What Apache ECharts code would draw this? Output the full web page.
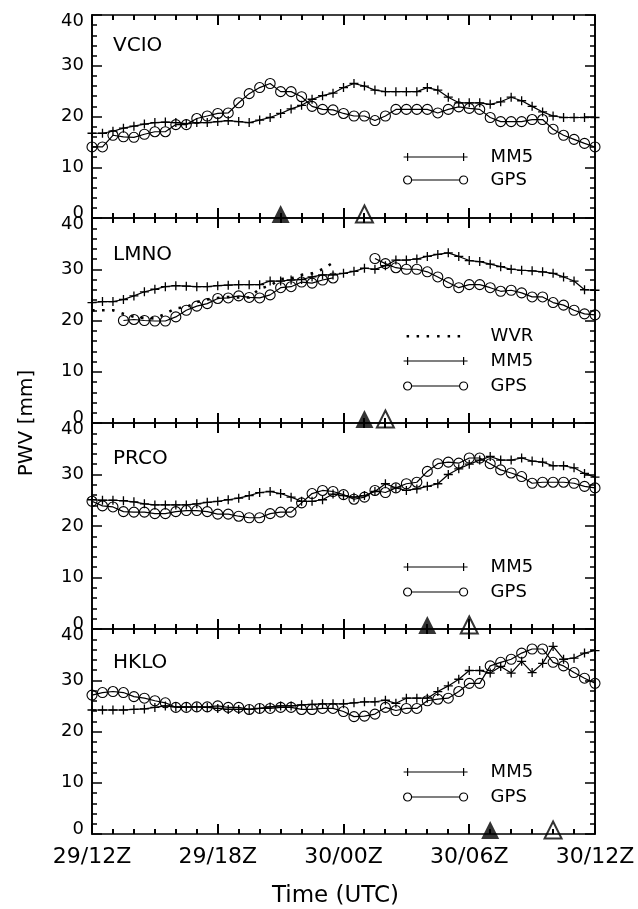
<!DOCTYPE html>
<html>
<head>
<meta charset="utf-8">
<script src="https://cdn.jsdelivr.net/npm/echarts@6/dist/echarts.min.js"></script>
<style>
html,body{margin:0;padding:0;background:#fff;}
#chart{width:638px;height:909px;}
</style>
</head>
<body>
<div id="chart"></div>
<script>
// ---- data (hours after 29/12Z, half-hourly) ----
const hours = [0,0.5,1,1.5,2,2.5,3,3.5,4,4.5,5,5.5,6,6.5,7,7.5,8,8.5,9,9.5,10,10.5,11,11.5,12,
  12.5,13,13.5,14,14.5,15,15.5,16,16.5,17,17.5,18,18.5,19,19.5,20,20.5,21,21.5,22,22.5,23,23.5,24];
const xTickLabels = ['29/12Z','29/18Z','30/00Z','30/06Z','30/12Z'];
const stations = ['VCIO','LMNO','PRCO','HKLO'];

const vcioMM5 = [16.7,16.7,17.1,17.7,18.1,18.5,18.8,18.9,18.8,18.6,18.8,18.8,19.0,19.2,19.0,18.8,19.3,19.8,20.6,21.5,22.2,23.4,24.1,24.6,
  25.7,26.5,26.0,25.2,24.9,24.9,24.9,24.9,25.7,25.2,23.8,22.7,22.7,22.7,22.4,22.9,23.8,23.1,22.0,20.9,20.1,19.8,19.8,19.8,19.8];
const vcioGPS = [14.0,14.0,16.3,16.0,15.9,16.5,17.0,17.0,18.4,18.4,19.6,20.1,20.6,20.7,22.7,24.5,25.7,26.5,24.9,24.9,23.9,22.0,21.4,21.3,
  20.6,20.1,20.1,19.2,20.1,21.4,21.4,21.4,21.4,20.7,21.4,21.9,21.6,21.4,19.8,19.0,19.0,19.0,19.4,19.4,17.5,16.3,15.5,14.7,14.0];

const lmnoMM5 = [23.5,23.7,23.7,24.1,24.8,25.6,26.1,26.6,26.8,26.7,26.6,26.6,26.8,26.9,27.0,27.0,27.0,27.7,27.7,27.9,28.0,28.5,28.9,28.9,
  29.2,29.6,30.2,30.0,30.7,31.8,31.8,32.0,32.5,32.9,33.2,32.5,31.7,31.5,31.0,30.5,30.0,29.8,29.7,29.5,29.2,28.5,27.7,26.0,25.9];
const lmnoGPS = [null,null,null,20.0,20.2,20.0,19.9,19.9,20.7,22.0,22.8,23.3,24.3,24.4,24.8,24.5,24.4,25.0,26.4,26.6,27.5,27.3,27.9,28.3,
  null,null,null,32.1,31.1,30.3,30.0,30.0,29.5,28.5,27.4,26.4,27.0,27.0,26.4,25.7,25.9,25.4,24.6,24.6,23.5,23.0,22.0,21.3,21.1];
const lmnoWVR = [22.0,22.0,22.0,21.3,20.7,20.5,20.4,21.3,22.4,22.6,23.6,24.1,24.4,24.6,24.5,24.5,26.2,26.8,28.1,28.2,28.9,29.2,30.0,31.3,
  null,null,null,null,null,null,null,null,null,null,null,null,null,null,null,null,null,null,null,null,null,null,null,null,null];

const prcoMM5 = [25.1,25.0,25.0,24.9,24.7,24.3,24.1,24.1,24.1,24.1,24.3,24.6,24.8,25.1,25.4,25.9,26.5,26.7,26.3,25.6,24.8,24.8,25.1,26.2,
  25.9,25.6,25.9,26.7,28.2,27.4,26.9,27.2,27.7,28.2,30.0,31.1,32.0,32.8,33.5,32.8,32.8,33.2,32.6,32.4,31.7,31.7,31.3,30.2,29.5];
const prcoGPS = [24.8,23.9,23.7,22.8,22.7,22.7,22.4,22.4,22.8,23.0,23.0,22.8,22.3,22.3,21.9,21.6,21.6,22.4,22.7,22.7,24.5,26.3,26.9,26.7,
  26.1,25.2,25.6,26.9,26.5,27.4,28.2,28.5,30.6,32.1,32.4,32.2,33.2,33.2,32.1,30.9,30.3,29.6,28.3,28.5,28.5,28.5,28.3,27.7,27.4];

const hkloMM5 = [24.2,24.2,24.2,24.2,24.3,24.4,24.7,25.0,24.8,24.8,24.8,24.7,24.5,24.3,24.3,24.3,24.5,24.8,25.0,25.0,25.2,25.3,25.4,25.4,
  25.4,25.6,25.8,25.8,26.1,25.5,26.5,26.5,26.5,27.8,28.9,30.2,31.9,31.9,31.4,32.7,31.4,33.7,31.5,33.3,36.6,34.1,34.3,35.3,35.8];
const hkloGPS = [27.1,27.6,27.8,27.6,26.8,26.5,26.0,25.6,24.7,24.7,24.8,24.8,25.0,24.7,24.7,24.3,24.5,24.5,24.7,24.7,24.3,24.3,24.5,24.5,
  23.9,22.9,23.0,23.4,24.7,24.1,24.5,24.5,26.0,26.3,26.5,27.8,29.4,29.4,32.8,33.5,34.1,35.3,36.1,36.1,33.5,32.8,31.5,30.4,29.4];

// triangle markers (hours after 29/12Z)
const filledMarkers = [9, 13, 16, 19];
const openMarkers = [13, 14, 18, 22];

// ---- layout / style ----
const FONT = 'DejaVu Sans';
const grids = [
  {top: 15, height: 203},
  {top: 218, height: 205},
  {top: 423, height: 206},
  {top: 629, height: 205}
];
const legendTops = [148, 327, 558, 763];
const legendGaps = [5, 7, 7, 7];
const titleTops = [36, 245, 449, 653];

const plusSym = 'path://M0,5L10,5M5,0L5,10';
const iconMM5 = 'path://M0,0M64,10M0,5L64,5M4,1L4,9M60,1L60,9';
const iconGPS = 'path://M0,0M64,10M8,5A4,4,0,1,1,0,5A4,4,0,1,1,8,5M64,5A4,4,0,1,1,56,5A4,4,0,1,1,64,5M8,5L56,5';
const iconWVR = 'path://M0,0M64,10M3,4L5.5,4L5.5,6.5L3,6.5ZM13,4L15.5,4L15.5,6.5L13,6.5ZM23,4L25.5,4L25.5,6.5L23,6.5ZM33.5,4L36,4L36,6.5L33.5,6.5ZM44,4L46.5,4L46.5,6.5L44,6.5ZM54,4L56.5,4L56.5,6.5L54,6.5Z';

function axisLine() { return {show: true, onZero: false, lineStyle: {color: '#000', width: 1.6}}; }
function tick(len) { return {show: true, inside: true, length: len, lineStyle: {color: '#000', width: 1.5}}; }

const seriesData = [
  {mm5: vcioMM5, gps: vcioGPS},
  {mm5: lmnoMM5, gps: lmnoGPS, wvr: lmnoWVR},
  {mm5: prcoMM5, gps: prcoGPS},
  {mm5: hkloMM5, gps: hkloGPS}
];
const pair = arr => hours.map((h, i) => [h, arr[i]]);

const pwvText = {
  type: 'text', x: 27, y: 423, rotation: Math.PI / 2,
  style: {text: 'PWV [mm]', fontSize: 20, fontFamily: FONT, fill: '#000', align: 'center', verticalAlign: 'middle'}
};

const option = {
  animation: false,
  backgroundColor: '#fff',
  grid: grids.map(g => ({left: 92, right: 43, top: g.top, height: g.height})),
  title: stations.map((s, i) => ({
    text: s, left: 113, top: titleTops[i], padding: 0,
    textStyle: {fontSize: 20, fontWeight: 'normal', fontFamily: FONT, color: '#000'}
  })),
  xAxis: [], yAxis: [], legend: [], series: [],
  graphic: [pwvText]
};

for (let g = 0; g < 4; g++) {
  const isLast = g === 3;
  option.xAxis.push({
    gridIndex: g, type: 'value', position: 'bottom', min: 0, max: 24, interval: 6,
    axisLine: axisLine(), splitLine: {show: false}, axisTick: {show: false},
    axisLabel: isLast ? {
      show: true, margin: 12, fontSize: 22, fontFamily: FONT, color: '#000',
      formatter: v => xTickLabels[Math.round(v / 6)]
    } : {show: false},
    name: isLast ? 'Time (UTC)' : '',
    nameLocation: 'middle', nameGap: 51,
    nameTextStyle: {fontSize: 23, fontFamily: FONT, color: '#000', padding: [0, 16, 0, 0]}
  });
  option.xAxis.push({
    gridIndex: g, type: 'value', position: 'top', min: 0, max: 24, interval: 6,
    axisLine: axisLine(), splitLine: {show: false}, axisTick: {show: false},
    axisLabel: {show: false}
  });
  option.yAxis.push({
    gridIndex: g, type: 'value', position: 'left', min: 0, max: 40, interval: 10,
    axisLine: axisLine(), splitLine: {show: false}, axisTick: tick(10),
    axisLabel: {
      show: true, margin: 8, fontSize: 18, fontFamily: FONT, color: '#000',
      formatter: v => v === 40 ? '{t|40}' : (v === 0 ? '{b|0}' : String(v)),
      rich: {
        t: {fontSize: 18, fontFamily: FONT, color: '#000', padding: [12, 0, 0, 0]},
        b: {fontSize: 18, fontFamily: FONT, color: '#000', padding: [0, 0, 10, 0]}
      }
    }
  });
  option.yAxis.push({
    gridIndex: g, type: 'value', position: 'right', min: 0, max: 40, interval: 10,
    axisLine: axisLine(), splitLine: {show: false}, axisTick: tick(10), axisLabel: {show: false}
  });
  option.yAxis.push({
    gridIndex: g, type: 'value', position: 'left', min: 0, max: 40, interval: 2,
    axisLine: axisLine(), splitLine: {show: false}, axisTick: tick(5), axisLabel: {show: false}
  });
  option.yAxis.push({
    gridIndex: g, type: 'value', position: 'right', min: 0, max: 40, interval: 2,
    axisLine: axisLine(), splitLine: {show: false}, axisTick: tick(5), axisLabel: {show: false}
  });

  const xi = g * 2, yi = g * 4;
  const sd = seriesData[g];
  const legendData = [];
  if (sd.wvr) {
    option.series.push({
      type: 'line', name: 'WVR', xAxisIndex: xi, yAxisIndex: yi, data: pair(sd.wvr),
      symbol: 'none', lineStyle: {color: '#000', width: 2.6, type: [2.6, 7.4], cap: 'butt'},
      itemStyle: {color: '#000'}
    });
    legendData.push({name: 'WVR', icon: iconWVR, itemStyle: {color: '#000', borderWidth: 0}});
  }
  option.series.push({
    type: 'line', name: 'MM5', xAxisIndex: xi, yAxisIndex: yi, data: pair(sd.mm5),
    symbol: plusSym, symbolSize: 9, showSymbol: true,
    lineStyle: {color: '#000', width: 1.2},
    itemStyle: {color: 'rgba(0,0,0,0)', borderColor: '#000', borderWidth: 1.3}
  });
  option.series.push({
    type: 'line', name: 'GPS', xAxisIndex: xi, yAxisIndex: yi, data: pair(sd.gps),
    symbol: 'circle', symbolSize: 10, showSymbol: true,
    lineStyle: {color: '#000', width: 1.2},
    itemStyle: {color: 'rgba(0,0,0,0)', borderColor: '#000', borderWidth: 1.1}
  });
  legendData.push({name: 'MM5', icon: iconMM5});
  legendData.push({name: 'GPS', icon: iconGPS});

  option.series.push({
    type: 'scatter', name: 'marker1', xAxisIndex: xi, yAxisIndex: yi, data: [[filledMarkers[g], 0]],
    symbol: 'triangle', symbolSize: [18, 18], symbolOffset: [0, -4], clip: false, z: 5,
    itemStyle: {color: '#000'}
  });
  option.series.push({
    type: 'scatter', name: 'marker2', xAxisIndex: xi, yAxisIndex: yi, data: [[openMarkers[g], 0]],
    symbol: 'triangle', symbolSize: [17, 17], symbolOffset: [0, -4], clip: false, z: 5,
    itemStyle: {color: 'rgba(0,0,0,0)', borderColor: '#000', borderWidth: 2}
  });

  option.legend.push({
    orient: 'vertical', left: 403, top: legendTops[g], padding: 0,
    itemWidth: 64, itemHeight: 10, itemGap: legendGaps[g], selectedMode: false,
    textStyle: {fontSize: 18, fontFamily: FONT, color: '#000', padding: [0, 0, 0, 18]},
    itemStyle: {color: 'rgba(0,0,0,0)', borderColor: '#000', borderWidth: 1.2},
    data: legendData
  });
}

const chart = echarts.init(document.getElementById('chart'), null, {renderer: 'canvas'});
chart.setOption(option);

// hourly x-axis tick marks (inward, top and bottom of each panel), positioned through the axis scales
const extra = [pwvText];
for (let g = 0; g < 4; g++) {
  let yTop = Number(chart.convertToPixel({yAxisIndex: g * 4}, 40));
  let yBot = Number(chart.convertToPixel({yAxisIndex: g * 4}, 0));
  if (!isFinite(yTop)) yTop = grids[g].top;
  if (!isFinite(yBot)) yBot = grids[g].top + grids[g].height;
  for (let h = 0; h <= 24; h++) {
    let px = Number(chart.convertToPixel({xAxisIndex: g * 2}, h));
    if (!isFinite(px)) px = 92 + 503 * h / 24;
    px = Math.round(px);
    const len = h % 6 === 0 ? 10 : 5;
    extra.push({type: 'rect', silent: true, z: 100,
      shape: {x: px - 1, y: yTop, width: 2, height: len}, style: {fill: '#000'}});
    extra.push({type: 'rect', silent: true, z: 100,
      shape: {x: px - 1, y: yBot - len, width: 2, height: len}, style: {fill: '#000'}});
  }
}
chart.setOption({graphic: extra});
</script>
</body>
</html>
